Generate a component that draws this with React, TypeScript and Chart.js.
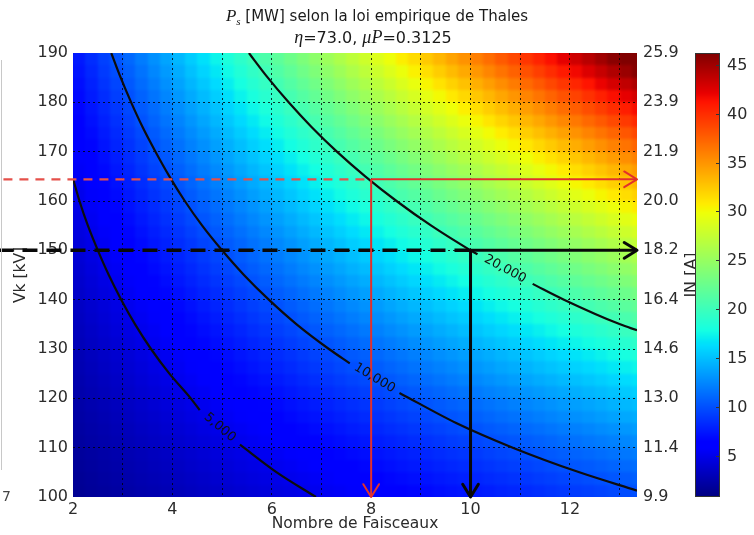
import React, { useEffect, useRef } from 'react';
import { Chart, registerables } from 'chart.js';

Chart.register(...registerables);

// ---- Map grid: number of beams (columns) x Vk levels (rows), Ps in MW ----
const faisceaux = [2, 3, 4, 5, 6, 7, 8, 9, 10, 11, 12, 13, 14];
const vkLevels = [100, 110, 120, 130, 140, 150, 160, 170, 180, 190];
const ps100 = [1.45, 2.18, 2.9, 3.63, 4.36, 5.08, 5.81, 6.53, 7.26, 7.99, 8.71, 9.44, 10.16];
const ps110 = [1.84, 2.76, 3.69, 4.61, 5.53, 6.45, 7.37, 8.29, 9.21, 10.13, 11.06, 11.98, 12.9];
const ps120 = [2.29, 3.44, 4.58, 5.73, 6.87, 8.02, 9.16, 10.31, 11.45, 12.6, 13.74, 14.89, 16.03];
const ps130 = [2.8, 4.2, 5.6, 6.99, 8.39, 9.79, 11.19, 12.59, 13.99, 15.39, 16.79, 18.19, 19.58];
const ps140 = [3.37, 5.05, 6.73, 8.42, 10.1, 11.79, 13.47, 15.15, 16.84, 18.52, 20.2, 21.89, 23.57];
const ps150 = [4.0, 6.0, 8.0, 10.0, 12.0, 14.0, 16.0, 18.01, 20.01, 22.01, 24.01, 26.01, 28.01];
const ps160 = [4.7, 7.05, 9.4, 11.76, 14.11, 16.46, 18.81, 21.16, 23.51, 25.86, 28.21, 30.56, 32.91];
const ps170 = [5.47, 8.21, 10.94, 13.68, 16.41, 19.15, 21.88, 24.62, 27.36, 30.09, 32.83, 35.56, 38.3];
const ps180 = [6.31, 9.47, 12.62, 15.78, 18.94, 22.09, 25.25, 28.4, 31.56, 34.72, 37.87, 41.03, 44.18];
const ps190 = [7.23, 10.84, 14.45, 18.06, 21.68, 25.29, 28.9, 32.51, 36.13, 39.74, 43.35, 46.96, 50.58];
const psRows = [ps100, ps110, ps120, ps130, ps140, ps150, ps160, ps170, ps180, ps190];

// pcolor cell size (beams, kV)
const cellN = 0.25;
const cellVk = 2.5;

// Axis ranges and ticks
const nMin = 2;
const nMax = 13.35;
const vkMin = 100;
const vkMax = 190;
const rightTickLabels = ['9.9', '11.4', '13.0', '14.6', '16.4', '18.2', '20.0', '21.9', '23.9', '25.9'];

// Colour bar
const colorMin = 0.8;
const colorMax = 46.2;
const colorbarTicks = [5, 10, 15, 20, 25, 30, 35, 40, 45];

// Iso-power contours (y: null marks the gap left for the inline label)
const contour5000 = [
  { x: 2.0, y: 164.5 }, { x: 2.13, y: 160 }, { x: 2.3, y: 155 }, { x: 2.5, y: 150 },
  { x: 2.72, y: 145 }, { x: 2.97, y: 140 }, { x: 3.25, y: 135 }, { x: 3.57, y: 130 },
  { x: 3.94, y: 125 }, { x: 4.37, y: 120 }, { x: 4.55, y: 117.6 },
  { x: 4.96, y: null },
  { x: 5.36, y: 110.6 }, { x: 6.1, y: 105 }, { x: 6.89, y: 100 },
];
const contour10000 = [
  { x: 2.77, y: 190 }, { x: 2.96, y: 185 }, { x: 3.17, y: 180 }, { x: 3.4, y: 175 },
  { x: 3.66, y: 170 }, { x: 3.94, y: 165 }, { x: 4.25, y: 160 }, { x: 4.6, y: 155 },
  { x: 5.0, y: 150 }, { x: 5.44, y: 145 }, { x: 5.94, y: 140 }, { x: 6.5, y: 135 },
  { x: 7.15, y: 130 }, { x: 7.57, y: 127.1 },
  { x: 8.07, y: null },
  { x: 8.57, y: 121.1 }, { x: 9.71, y: 115 }, { x: 10.85, y: 110 },
  { x: 12.19, y: 105 }, { x: 13.35, y: 101.3 },
];
const contour20000 = [
  { x: 5.54, y: 190 }, { x: 5.92, y: 185 }, { x: 6.34, y: 180 }, { x: 6.8, y: 175 },
  { x: 7.31, y: 170 }, { x: 7.88, y: 165 }, { x: 8.51, y: 160 }, { x: 9.21, y: 155 },
  { x: 10.0, y: 150 }, { x: 10.14, y: 149.2 },
  { x: 10.7, y: null },
  { x: 11.25, y: 143.2 }, { x: 11.88, y: 140 }, { x: 13.01, y: 135 }, { x: 13.35, y: 133.8 },
];
const contourLabels = ['5,000', '10,000', '20,000'];

// Reading guides: Vk level -> required beams
const redVk = 164.4;
const redN = 8;
const redStartN = 0.6;
const blackVk = 150;
const blackN = 10;
const blackStartN = 0.5;

const FONT = '"DejaVu Sans", sans-serif';
const TEXT = '#2b2b2b';
const TICK_SIZE = 16;

function jetChannel(t: number, stops: number[][]): number {
  for (let i = 1; i < stops.length; i++) {
    if (t <= stops[i][0]) {
      const [x0, y0] = stops[i - 1];
      const [x1, y1] = stops[i];
      return y0 + ((t - x0) / (x1 - x0)) * (y1 - y0);
    }
  }
  return stops[stops.length - 1][1];
}

function jet(t: number): [number, number, number] {
  const u = Math.max(0, Math.min(1, t));
  const r = jetChannel(u, [[0, 0], [0.35, 0], [0.66, 1], [0.89, 1], [1, 0.5]]);
  const g = jetChannel(u, [[0, 0], [0.125, 0], [0.375, 1], [0.64, 1], [0.91, 0], [1, 0]]);
  const b = jetChannel(u, [[0, 0.5], [0.11, 1], [0.34, 1], [0.65, 0], [1, 0]]);
  return [Math.round(r * 255), Math.round(g * 255), Math.round(b * 255)];
}

function locate(arr: number[], v: number): [number, number] {
  const last = arr.length - 1;
  if (v <= arr[0]) return [0, 0];
  if (v >= arr[last]) return [last - 1, 1];
  let i = 0;
  while (i < last - 1 && v > arr[i + 1]) i++;
  return [i, (v - arr[i]) / (arr[i + 1] - arr[i])];
}

function psAt(n: number, vk: number): number {
  const [i, fx] = locate(faisceaux, n);
  const [j, fy] = locate(vkLevels, vk);
  const a = psRows[j][i];
  const b = psRows[j][i + 1];
  const c = psRows[j + 1][i];
  const d = psRows[j + 1][i + 1];
  return (a * (1 - fx) + b * fx) * (1 - fy) + (c * (1 - fx) + d * fx) * fy;
}

const heatmapPlugin = {
  id: 'psHeatmap',
  beforeDraw(chart: any) {
    const { ctx, chartArea: a, scales } = chart;
    const m = 6;
    const w = Math.round(a.right - a.left) + 2 * m;
    const h = Math.round(a.bottom - a.top) + 2 * m;
    const off = document.createElement('canvas');
    off.width = w;
    off.height = h;
    const octx = off.getContext('2d')!;
    const img = octx.createImageData(w, h);
    const ns: number[] = [];
    for (let px = 0; px < w; px++) {
      const n = scales.x.getValueForPixel(a.left - m + px + 0.5);
      ns.push(nMin + (Math.floor((n - nMin) / cellN) + 0.5) * cellN);
    }
    for (let py = 0; py < h; py++) {
      const vr = scales.y.getValueForPixel(a.top - m + py + 0.5);
      const vk = vkMin + (Math.floor((vr - vkMin) / cellVk) + 0.5) * cellVk;
      for (let px = 0; px < w; px++) {
        const v = psAt(ns[px], vk);
        const [r, g, b] = jet((v - colorMin) / (colorMax - colorMin));
        const k = (py * w + px) * 4;
        img.data[k] = r;
        img.data[k + 1] = g;
        img.data[k + 2] = b;
        img.data[k + 3] = 255;
      }
    }
    octx.putImageData(img, 0, 0);
    ctx.save();
    ctx.beginPath();
    ctx.rect(a.left, a.top, a.right - a.left, a.bottom - a.top);
    ctx.clip();
    ctx.filter = 'blur(1.4px)';
    ctx.drawImage(off, a.left - m, a.top - m);
    ctx.restore();
  },
};

function drawRuns(ctx: CanvasRenderingContext2D, runs: { t: string; f: string; dy?: number }[], cx: number, y: number) {
  let total = 0;
  for (const r of runs) {
    ctx.font = r.f;
    total += ctx.measureText(r.t).width;
  }
  let x = cx - total / 2;
  ctx.textAlign = 'left';
  ctx.textBaseline = 'alphabetic';
  for (const r of runs) {
    ctx.font = r.f;
    ctx.fillText(r.t, x, y + (r.dy || 0));
    x += ctx.measureText(r.t).width;
  }
}

const overlayPlugin = {
  id: 'psOverlay',
  afterDraw(chart: any) {
    const { ctx, chartArea: a, scales, width } = chart;
    const xs = scales.x;
    const ys = scales.y;

    // inline contour labels, set in the gap of each contour
    ctx.save();
    ctx.fillStyle = '#111';
    ctx.font = `13px ${FONT}`;
    ctx.textAlign = 'center';
    ctx.textBaseline = 'middle';
    [contour5000, contour10000, contour20000].forEach((pts, idx) => {
      const g = pts.findIndex((p) => p.y === null);
      const p0 = pts[g - 1];
      const p1 = pts[g + 1];
      const x0 = xs.getPixelForValue(p0.x);
      const y0 = ys.getPixelForValue(p0.y as number);
      const x1 = xs.getPixelForValue(p1.x);
      const y1 = ys.getPixelForValue(p1.y as number);
      ctx.save();
      ctx.translate((x0 + x1) / 2, (y0 + y1) / 2);
      ctx.rotate(Math.atan2(y1 - y0, x1 - x0));
      ctx.fillText(contourLabels[idx], 0, 0);
      ctx.restore();
    });
    ctx.restore();

    // open arrow heads at the end of the guide arrows
    chart.data.datasets.forEach((ds: any, i: number) => {
      if (!ds.arrowHead) return;
      const pts = chart.getDatasetMeta(i).data;
      const tip = pts[pts.length - 1];
      const prev = pts[pts.length - 2];
      const ang = Math.atan2(tip.y - prev.y, tip.x - prev.x);
      const len = 15;
      const spread = 0.55;
      ctx.save();
      ctx.strokeStyle = ds.borderColor;
      ctx.lineWidth = ds.borderWidth;
      ctx.lineCap = 'round';
      ctx.lineJoin = 'round';
      ctx.beginPath();
      ctx.moveTo(tip.x - len * Math.cos(ang - spread), tip.y - len * Math.sin(ang - spread));
      ctx.lineTo(tip.x, tip.y);
      ctx.lineTo(tip.x - len * Math.cos(ang + spread), tip.y - len * Math.sin(ang + spread));
      ctx.stroke();
      ctx.restore();
    });

    // right axis title
    ctx.save();
    ctx.fillStyle = TEXT;
    ctx.font = `${TICK_SIZE}px ${FONT}`;
    ctx.translate(692, (a.top + a.bottom) / 2);
    ctx.rotate(-Math.PI / 2);
    ctx.textAlign = 'center';
    ctx.textBaseline = 'middle';
    ctx.fillText('IN [A]', 0, 0);
    ctx.restore();

    // colour bar
    const cbLeft = 695;
    const cbRight = 720;
    const cbTop = a.top;
    const cbBottom = a.bottom;
    const cbH = cbBottom - cbTop;
    const toY = (v: number) => cbBottom - ((v - colorMin) / (colorMax - colorMin)) * cbH;
    for (let py = 0; py < cbH; py++) {
      const v = colorMax - ((py + 0.5) / cbH) * (colorMax - colorMin);
      const [r, g, b] = jet((v - colorMin) / (colorMax - colorMin));
      ctx.fillStyle = `rgb(${r},${g},${b})`;
      ctx.fillRect(cbLeft, cbTop + py, cbRight - cbLeft, 1);
    }
    ctx.strokeStyle = '#333';
    ctx.lineWidth = 1;
    ctx.strokeRect(cbLeft + 0.5, cbTop + 0.5, cbRight - cbLeft - 1, cbH - 1);
    ctx.fillStyle = TEXT;
    ctx.font = `${TICK_SIZE}px ${FONT}`;
    ctx.textAlign = 'left';
    ctx.textBaseline = 'middle';
    colorbarTicks.forEach((t) => {
      const y = Math.round(toY(t)) + 0.5;
      ctx.beginPath();
      ctx.moveTo(cbRight - 4, y);
      ctx.lineTo(cbRight, y);
      ctx.stroke();
      ctx.fillText(String(t), cbRight + 7, y);
    });

    // figure title (two lines, with math-style symbols), centred on the figure
    ctx.fillStyle = '#1a1a1a';
    const cx = width / 2;
    drawRuns(ctx, [
      { t: 'P', f: 'italic 17px "Liberation Serif", serif' },
      { t: 's', f: 'italic 11px "Liberation Serif", serif', dy: 4 },
      { t: ' [MW] selon la loi empirique de Thales', f: `15px ${FONT}` },
    ], cx, 21);
    drawRuns(ctx, [
      { t: 'η', f: 'italic 18px "Liberation Serif", serif' },
      { t: '=73.0, ', f: `16px ${FONT}` },
      { t: 'μP', f: 'italic 18px "Liberation Serif", serif' },
      { t: '=0.3125', f: `16px ${FONT}` },
    ], cx - 4, 43);

    // edge of the neighbouring panel
    ctx.strokeStyle = '#c8c8c8';
    ctx.beginPath();
    ctx.moveTo(1.5, 60);
    ctx.lineTo(1.5, 470);
    ctx.stroke();
    ctx.fillStyle = '#444';
    ctx.font = `14px ${FONT}`;
    ctx.textAlign = 'left';
    ctx.textBaseline = 'middle';
    ctx.fillText('7', 2, 497);
  },
};

const gridColor = (edgeLow: number, edgeHigh: number) => (c: any) => {
  const v = c.tick ? c.tick.value : NaN;
  return v === edgeLow || v === edgeHigh ? 'rgba(0,0,0,0)' : 'rgba(0,0,0,0.8)';
};

function guide(data: any[], color: string, width: number, dash: number[] | undefined, arrow: boolean) {
  return {
    type: 'line',
    data,
    borderColor: color,
    borderWidth: width,
    borderDash: dash || [],
    pointRadius: 0,
    pointHoverRadius: 0,
    fill: false,
    tension: 0,
    clip: false,
    arrowHead: arrow,
  };
}

function contour(data: any[]) {
  return {
    type: 'line',
    data,
    borderColor: '#0d0d0d',
    borderWidth: 2.2,
    pointRadius: 0,
    pointHoverRadius: 0,
    fill: false,
    cubicInterpolationMode: 'monotone',
    spanGaps: false,
  };
}

export default function App() {
  const ref = useRef<HTMLCanvasElement>(null);

  useEffect(() => {
    const red = '#e2302b';
    const black = '#080808';
    const chart = new Chart(ref.current as HTMLCanvasElement, {
      type: 'line',
      data: {
        datasets: [
          guide([{ x: redN, y: redVk }, { x: nMax, y: redVk }], red, 2, undefined, true),
          guide([{ x: redN, y: redVk }, { x: redN, y: vkMin }], red, 2, undefined, true),
          guide([{ x: redStartN, y: redVk }, { x: redN, y: redVk }], '#e5504a', 2.2, [9, 7], false),
          guide([{ x: blackN, y: blackVk }, { x: nMax, y: blackVk }], black, 3, undefined, true),
          guide([{ x: blackN, y: blackVk }, { x: blackN, y: vkMin }], black, 3, undefined, true),
          guide([{ x: blackStartN, y: blackVk }, { x: blackN, y: blackVk }], black, 3.5, [15, 9], false),
          contour(contour5000),
          contour(contour10000),
          contour(contour20000),
        ] as any,
      },
      options: {
        responsive: false,
        animation: false,
        devicePixelRatio: 1,
        events: [],
        layout: { padding: { top: 53, left: 0, right: 0, bottom: 0 } },
        plugins: {
          legend: { display: false },
          tooltip: { enabled: false },
          title: { display: false },
        },
        scales: {
          x: {
            type: 'linear',
            min: nMin,
            max: nMax,
            afterFit: (s: any) => { s.height = 38; },
            ticks: {
              stepSize: 1,
              includeBounds: false,
              autoSkip: false,
              maxRotation: 0,
              padding: 3,
              color: TEXT,
              font: { family: FONT, size: TICK_SIZE },
              callback: (v: any) => (Number(v) % 2 === 0 ? String(v) : ''),
            },
            grid: { color: gridColor(nMin, nMax), drawTicks: false, lineWidth: 1 },
            border: { display: false, dash: [2, 3] },
            title: {
              display: true,
              text: 'Nombre de Faisceaux',
              color: TEXT,
              font: { family: FONT, size: 15.5 },
              padding: { top: 0, bottom: 2 },
            },
          },
          y: {
            type: 'linear',
            position: 'left',
            min: vkMin,
            max: vkMax,
            afterFit: (s: any) => { s.width = 73; },
            ticks: {
              stepSize: 10,
              padding: 5,
              color: TEXT,
              font: { family: FONT, size: TICK_SIZE },
            },
            grid: { color: gridColor(vkMin, vkMax), drawTicks: false, lineWidth: 1 },
            border: { display: false, dash: [2, 3] },
            title: {
              display: true,
              text: 'Vk [kV]',
              color: TEXT,
              font: { family: FONT, size: 15.5 },
              padding: { top: 12, bottom: 0 },
            },
          },
          y2: {
            type: 'linear',
            position: 'right',
            min: vkMin,
            max: vkMax,
            afterFit: (s: any) => { s.width = 117; },
            ticks: {
              stepSize: 10,
              padding: 6,
              color: TEXT,
              font: { family: FONT, size: TICK_SIZE },
              callback: (_v: any, i: number) => rightTickLabels[i],
            },
            grid: { display: false, drawTicks: false },
            border: { display: false },
          },
        },
      },
      plugins: [heatmapPlugin, overlayPlugin],
    } as any);
    return () => chart.destroy();
  }, []);

  return (
    <div style={{ position: 'fixed', left: 0, top: 0, width: 754, height: 535, background: '#fff' }}>
      <canvas ref={ref} width={754} height={535} style={{ display: 'block', width: 754, height: 535 }} />
    </div>
  );
}
